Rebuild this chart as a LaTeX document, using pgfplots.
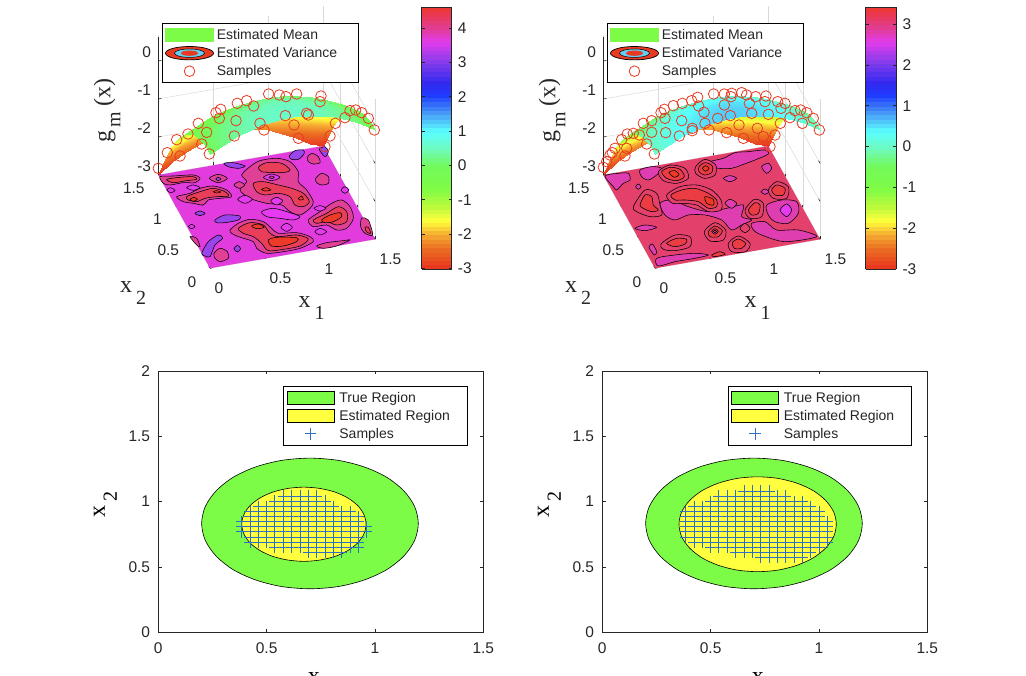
\documentclass[border=0pt]{standalone}
\usepackage{fontspec}
\setmainfont{Liberation Sans}
\newfontfamily\timesf{Liberation Serif}
\usepackage{pgfplots}
\pgfplotsset{compat=1.18}
\usepackage{pgfplotstable}

\definecolor{txt}{HTML}{262626}
\definecolor{tg}{RGB}{124,252,70}
\definecolor{ty}{RGB}{255,255,63}
\definecolor{sr}{RGB}{232,58,32}
\definecolor{sb}{RGB}{48,112,192}
% left floor
\definecolor{lbase}{RGB}{226,60,222}
\definecolor{lmag}{RGB}{230,58,240}
\definecolor{lpink}{RGB}{224,64,150}
\definecolor{lred}{RGB}{232,62,90}
\definecolor{ldark}{RGB}{238,58,40}
\definecolor{lpur}{RGB}{154,68,236}
% right floor
\definecolor{rbase}{RGB}{228,64,108}
\definecolor{rmag}{RGB}{222,62,176}
\definecolor{rred}{RGB}{234,60,66}
\definecolor{rdark}{RGB}{238,58,36}

\pgfplotsset{
  colormap={gm}{rgb255(0pt)=(232,50,30); rgb255(6pt)=(235,110,35); rgb255(10pt)=(245,170,50);
    rgb255(14pt)=(255,255,60); rgb255(18pt)=(190,250,60); rgb255(23.5pt)=(125,252,70);
    rgb255(30pt)=(115,250,90); rgb255(35pt)=(110,250,190); rgb255(40pt)=(90,255,255);
    rgb255(45pt)=(75,160,245); rgb255(50.5pt)=(30,60,255); rgb255(54pt)=(50,40,240);
    rgb255(60pt)=(130,60,235); rgb255(66pt)=(225,60,235); rgb255(70pt)=(225,60,150);
    rgb255(76pt)=(238,55,45)},
  colormap name=gm,
  /pgf/number format/assume math mode=true,
  tick label style={font=\fontsize{15.5}{15.5}\selectfont,text=txt,inner sep=0pt},
  threed/.style={
    anchor=south west, clip=false,
    x={(110pt,19.33pt)}, y={(-34.47pt,62.2pt)}, z={(0pt,38pt)},
    xmin=0,xmax=1.5,ymin=0,ymax=1.5,zmin=-3,zmax=0.68,
    xtick={0,0.5,1,1.5}, ytick={0,0.5,1,1.5}, ztick={-3,-2,-1,0},
    xtick pos=left, ytick pos=left, ztick pos=left,
    grid=major, grid style={gray!30,line width=0.5pt},
    x axis line style={draw=none}, y axis line style={draw=none}, z axis line style={draw=none},
    tick style={txt,line width=0.6pt}, major tick length=3pt,
    xticklabel style={anchor=west,xshift=4.5pt,yshift=-20pt},
    yticklabel style={anchor=east,xshift=-13.5pt,yshift=-13.4pt},
    zticklabel style={anchor=east,xshift=-7pt,yshift=8.5pt},
  },
  flat/.style={
    anchor=south west, scale only axis, width=325pt, height=261.3pt,
    xmin=0,xmax=1.5,ymin=0,ymax=2, xtick={0,0.5,1,1.5}, ytick={0,0.5,1,1.5,2},
    tick align=inside, xtick pos=both, ytick pos=both,
    tick style={txt,line width=0.7pt}, major tick length=3.3pt,
    axis line style={txt,line width=0.8pt},
    xticklabel style={yshift=-10pt}, yticklabel style={xshift=-8pt},
    xlabel style={at={(axis description cs:0.5,0)},anchor=base,yshift=-51.6pt},
    ylabel style={at={(axis description cs:0,0.5)},anchor=center,yshift=53pt,xshift=-3pt},
  },
  cbar/.style={samples=62,at={(parent axis.north west)},anchor=north west,
    scale only axis,height=261.7pt,
    yticklabel pos=right,tick align=inside,tick style={txt,line width=0.7pt},major tick length=3pt,
    yticklabel style={xshift=6pt},
    axis line style={txt,line width=0.9pt}},
  table/floormap/.style={x expr=0.008284*(\thisrowno{0}/3-60)+0.00459*(#1-\thisrowno{1}/3),
    y expr=0.01465*(#1-\thisrowno{1}/3)-0.002575*(\thisrowno{0}/3-60), z expr=-3,
    row sep=crcr, header=false},
  blobline/.style={draw=black,line width=0.55pt,smooth cycle,no markers,forget plot},
  ring/.style={only marks,mark=o,mark size=5.3pt,mark options={draw=sr,line width=0.8pt,fill=none},forget plot},
  leg/.style={
    anchor=south west, scale only axis, hide axis, xmin=0,xmax=1,ymin=0,ymax=1,
    legend style={at={(0,1)},anchor=north west,draw=black,line width=0.8pt,
      font=\fontsize{14}{14}\selectfont,text=txt,fill=white,
      inner xsep=3pt,inner ysep=4pt,
      nodes={inner sep=0pt,text depth=3pt,text height=12pt},
      /tikz/row sep=3pt,/tikz/column sep=3pt},
    legend cell align=left,
  },
}

% traced outlines, pixel read-offs in a crop of the floor
\newcommand{\blob}[2]{\addplot3[blobline,fill=#1] table[floormap=128.3]{#2};}
\newcommand{\lab}[2]{{\timesf\fontsize{24}{24}\selectfont #1\kern 4pt\raisebox{-12pt}{\fontsize{20}{20}\selectfont #2}}}
\newcommand{\gmx}{{\timesf\fontsize{24}{24}\selectfont g\kern 3.3pt\raisebox{-10pt}{\fontsize{20}{20}\selectfont m}\kern 5pt(x)}}

% mean surface, x2 up to the ridge and beyond it
\pgfplotstableread{
x y z
0 0 0
0.125 0 0.188
0.25 0 0.341
0.375 0 0.457
0.5 0 0.538
0.625 0 0.582
0.75 0 0.59
0.875 0 0.562
1 0 0.498
1.125 0 0.397
1.25 0 0.261
1.375 0 0.088
1.5 0 -0.12
0 0.155 -0.018
0.125 0.155 0.17
0.25 0.155 0.323
0.375 0.155 0.439
0.5 0.155 0.52
0.625 0.155 0.564
0.75 0.155 0.572
0.875 0.155 0.544
1 0.155 0.48
1.125 0.155 0.379
1.25 0.155 0.243
1.375 0.155 0.07
1.5 0.155 -0.138
0 0.31 -0.104
0.125 0.31 0.084
0.25 0.31 0.237
0.375 0.31 0.353
0.5 0.31 0.434
0.625 0.31 0.478
0.75 0.31 0.486
0.875 0.31 0.458
1 0.31 0.394
1.125 0.31 0.293
1.25 0.31 0.157
1.375 0.31 -0.016
1.5 0.31 -0.224
0 0.465 -0.256
0.125 0.465 -0.068
0.25 0.465 0.085
0.375 0.465 0.201
0.5 0.465 0.282
0.625 0.465 0.326
0.75 0.465 0.334
0.875 0.465 0.306
1 0.465 0.242
1.125 0.465 0.141
1.25 0.465 0.005
1.375 0.465 -0.168
1.5 0.465 -0.376
0 0.62 -0.476
0.125 0.62 -0.288
0.25 0.62 -0.135
0.375 0.62 -0.019
0.5 0.62 0.062
0.625 0.62 0.106
0.75 0.62 0.114
0.875 0.62 0.086
1 0.62 0.022
1.125 0.62 -0.079
1.25 0.62 -0.215
1.375 0.62 -0.388
1.5 0.62 -0.596
}\meanfront
\pgfplotstableread{
x y z
0 0.62 -0.476
0.125 0.62 -0.288
0.25 0.62 -0.135
0.375 0.62 -0.019
0.5 0.62 0.062
0.625 0.62 0.106
0.75 0.62 0.114
0.875 0.62 0.086
1 0.62 0.022
1.125 0.62 -0.079
1.25 0.62 -0.215
1.375 0.62 -0.388
1.5 0.62 -0.596
0 0.75 -0.713
0.125 0.75 -0.525
0.25 0.75 -0.372
0.375 0.75 -0.256
0.5 0.75 -0.175
0.625 0.75 -0.131
0.75 0.75 -0.123
0.875 0.75 -0.151
1 0.75 -0.215
1.125 0.75 -0.316
1.25 0.75 -0.452
1.375 0.75 -0.625
1.5 0.75 -0.833
0 0.875 -0.984
0.125 0.875 -0.796
0.25 0.875 -0.643
0.375 0.875 -0.527
0.5 0.875 -0.446
0.625 0.875 -0.402
0.75 0.875 -0.394
0.875 0.875 -0.422
1 0.875 -0.486
1.125 0.875 -0.587
1.25 0.875 -0.723
1.375 0.875 -0.896
1.5 0.875 -1.104
0 1 -1.3
0.125 1 -1.112
0.25 1 -0.959
0.375 1 -0.843
0.5 1 -0.762
0.625 1 -0.718
0.75 1 -0.71
0.875 1 -0.738
1 1 -0.802
1.125 1 -0.903
1.25 1 -1.039
1.375 1 -1.212
1.5 1 -1.42
0 1.125 -1.659
0.125 1.125 -1.451
0.25 1.125 -1.283
0.375 1.125 -1.162
0.5 1.125 -1.076
0.625 1.125 -1.029
0.75 1.125 -1.019
0.875 1.125 -1.047
1 1.125 -1.116
1.125 1.125 -1.232
1.25 1.125 -1.38
1.375 1.125 -1.563
1.5 1.125 -1.749
0 1.25 -2.063
0.125 1.25 -1.839
0.25 1.25 -1.659
0.375 1.25 -1.534
0.5 1.25 -1.444
0.625 1.25 -1.395
0.75 1.25 -1.383
0.875 1.25 -1.411
1 1.25 -1.484
1.125 1.25 -1.612
1.25 1.25 -1.77
1.375 1.25 -1.961
1.5 1.25 -2.129
0 1.375 -2.509
0.125 1.375 -2.265
0.25 1.375 -2.07
0.375 1.375 -1.94
0.5 1.375 -1.845
0.625 1.375 -1.794
0.75 1.375 -1.779
0.875 1.375 -1.807
1 1.375 -1.885
1.125 1.375 -2.028
1.25 1.375 -2.199
1.375 1.375 -2.4
1.5 1.375 -2.545
0 1.5 -3
0.125 1.5 -2.732
0.25 1.5 -2.519
0.375 1.5 -2.383
0.5 1.5 -2.282
0.625 1.5 -2.228
0.75 1.5 -2.21
0.875 1.5 -2.238
1 1.5 -2.322
1.125 1.5 -2.483
1.25 1.5 -2.669
1.375 1.5 -2.882
1.5 1.5 -3
}\meanback

\begin{document}
\begin{tikzpicture}[x=1pt,y=1pt]
\path[use as bounding box,clip] (0,0) rectangle (1026,676);

%% top left
\begin{axis}[threed,at={(158.3pt,407.7pt)},point meta min=-3.02,point meta max=4.61]
\addplot3[draw=none,fill=lbase,forget plot] coordinates {(0,0,-3)(1.5,0,-3)(1.5,1.5,-3)(0,1.5,-3)} -- cycle;
\blob{lpink}{275 105\\300 80\\330 62\\380 55\\420 65\\445 95\\445 125\\470 150\\490 185\\480 205\\450 225\\420 215\\395 195\\350 190\\300 175\\270 150\\290 125\\}
\blob{lred}{325 82\\350 68\\395 70\\420 90\\400 98\\360 97\\335 95\\}
\blob{lred}{310 130\\340 125\\385 135\\425 145\\460 160\\478 185\\460 200\\435 195\\420 170\\385 160\\345 165\\320 155\\}
\blob{ldark}{335 148\\350 143\\362 150\\345 153\\}
\blob{ldark}{445 175\\455 168\\460 178\\450 180\\}
\blob{lmag}{340 112\\365 102\\390 112\\365 122\\}
\blob{lpink}{357 112\\365 108\\373 112\\365 116\\}
\blob{lmag}{263 178\\285 166\\307 178\\285 190\\}
\blob{lmag}{362 183\\380 172\\398 183\\380 195\\}
\blob{lpink}{30 110\\70 108\\130 105\\150 115\\135 128\\100 128\\60 135\\40 130\\}
\blob{lred}{50 118\\90 112\\130 110\\140 118\\110 122\\70 128\\}
\blob{lpink}{178 115\\205 103\\232 115\\205 128\\}
\blob{lpur}{197 117\\205 112\\213 117\\205 122\\}
\blob{lpink}{252 135\\268 125\\284 135\\268 145\\}
\blob{lmag}{110 143\\130 135\\150 143\\130 151\\}
\blob{lmag}{50 150\\62 143\\75 152\\62 158\\}
\blob{lpink}{80 170\\120 160\\150 145\\190 138\\230 150\\245 170\\210 175\\175 180\\160 195\\130 190\\100 185\\}
\blob{lred}{110 170\\150 155\\190 145\\225 155\\235 168\\200 170\\165 175\\140 185\\115 180\\}
\blob{ldark}{190 155\\200 152\\212 156\\200 159\\}
\blob{ldark}{120 178\\132 172\\142 178\\130 184\\}
\blob{lpink}{240 270\\265 250\\300 238\\340 245\\365 265\\385 280\\440 278\\480 290\\490 305\\450 325\\400 335\\350 340\\320 325\\310 305\\265 290\\245 280\\}
\blob{lred}{265 265\\300 248\\340 255\\360 280\\385 290\\440 285\\475 297\\450 318\\400 328\\355 332\\335 310\\310 290\\280 280\\}
\blob{ldark}{355 300\\380 292\\440 293\\440 305\\400 318\\365 318\\}
\blob{ldark}{305 258\\325 252\\342 262\\320 266\\}
\blob{lpink}{475 240\\510 215\\545 190\\575 180\\600 200\\610 235\\590 265\\560 270\\530 255\\490 260\\}
\blob{lred}{490 240\\530 220\\565 200\\590 215\\590 245\\560 255\\530 245\\500 250\\}
\blob{ldark}{515 240\\540 225\\570 218\\575 230\\550 245\\525 248\\}
\blob{lpink}{497 115\\515 100\\535 110\\535 130\\515 135\\500 128\\}
\blob{lpink}{472 52\\485 40\\505 50\\510 68\\490 72\\475 65\\}
\blob{lpur}{418 48\\435 32\\460 30\\462 42\\445 58\\425 58\\}
\blob{lpur}{508 28\\525 20\\535 35\\525 50\\}
\blob{lpur}{222 70\\250 68\\285 78\\265 85\\235 80\\}
\blob{lpur}{195 240\\225 225\\270 228\\265 240\\225 248\\200 248\\}
\blob{lpur}{135 220\\150 213\\165 220\\150 227\\}
\blob{lpur}{155 340\\175 305\\205 285\\218 295\\195 315\\180 350\\165 348\\}
\blob{lpur}{252 326\\262 316\\272 326\\262 336\\}
\blob{lmag}{115 260\\125 253\\135 260\\125 266\\}
\blob{lmag}{335 215\\370 205\\420 218\\450 230\\430 240\\390 235\\350 230\\}
\blob{lmag}{393 262\\410 250\\427 262\\410 274\\}
\blob{lmag}{495 275\\510 265\\530 275\\510 285\\}
\blob{lmag}{492 205\\510 197\\528 205\\510 213\\}
\blob{lmag}{573 150\\585 140\\597 150\\585 160\\}
\blob{lpink}{120 290\\140 295\\150 320\\140 315\\}
\blob{lpink}{635 235\\655 240\\668 285\\645 280\\632 260\\}
\blob{lred}{645 262\\655 262\\662 280\\650 276\\}
\blob{lpink}{192 340\\210 325\\232 335\\235 355\\210 365\\195 355\\}
\blob{lpink}{500 318\\530 308\\580 302\\600 300\\560 318\\520 325\\}
\addplot3[ring] table[floormap=188.3]{90 228\\155 192\\525 200\\540 168\\445 175\\342 150\\};
\addplot3[surf,shader=interp,mesh/cols=13,forget plot] table {\meanback};
\addplot3[ring] table[floormap=188.3]{356 42\\388 45\\408 50\\440 42\\513 48\\510 65\\262 70\\290 62\\311 78\\198 98\\212 88\\145 130\\600 92\\617 90\\635 98\\655 115\\432 135\\475 105\\};
\addplot3[surf,shader=interp,mesh/cols=13,forget plot] table {\meanfront};
\addplot3[ring] table[floormap=188.3]{25 265\\52 218\\80 179\\114 162\\170 157\\178 222\\208 115\\258 122\\253 168\\330 130\\406 107\\470 100\\556 130\\585 113\\673 150\\};
\addplot3[txt,line width=0.8pt,forget plot] coordinates {(0,1.5,-3)(0,1.5,0.62)};
\end{axis}
\node[rotate=90,anchor=center,text=txt] at (107,565.5) {\gmx};
\node[anchor=base west,text=txt] at (116.5,383) {\lab{x}{2}};
\node[anchor=base west,text=txt] at (295,368) {\lab{x}{1}};

%% top right
\begin{axis}[threed,at={(603.3pt,407.7pt)},point meta min=-3.02,point meta max=3.41]
\addplot3[draw=none,fill=rbase,forget plot] coordinates {(0,0,-3)(1.5,0,-3)(1.5,1.5,-3)(0,1.5,-3)} -- cycle;
\blob{rmag}{30 108\\70 100\\100 100\\105 120\\85 130\\65 150\\55 140\\}
\blob{rmag}{135 90\\170 80\\200 85\\185 105\\160 120\\140 110\\}
\blob{rmag}{345 65\\385 55\\420 38\\460 35\\510 30\\520 42\\480 60\\440 75\\410 85\\370 85\\350 78\\}
\blob{rmag}{385 115\\405 107\\425 115\\405 125\\}
\blob{rmag}{500 80\\520 70\\530 85\\515 100\\}
\blob{rmag}{195 190\\230 180\\280 200\\340 215\\395 205\\445 195\\440 230\\470 240\\440 255\\410 270\\380 240\\330 225\\280 225\\240 240\\210 225\\}
\blob{rmag}{390 190\\405 178\\425 190\\410 205\\}
\blob{rmag}{515 195\\560 180\\605 185\\610 220\\580 250\\540 245\\520 225\\}
\blob{lmag}{555 210\\575 192\\590 210\\575 230\\}
\blob{rmag}{470 250\\510 245\\545 270\\610 270\\665 290\\570 305\\500 285\\475 270\\}
\blob{rbase}{435 265\\450 250\\465 265\\450 278\\}
\blob{rmag}{185 355\\240 345\\300 340\\340 345\\300 355\\240 365\\190 378\\}
\blob{rmag}{120 265\\150 255\\185 262\\150 272\\}
\blob{rmag}{122 140\\130 132\\138 140\\130 148\\}
\blob{rmag}{498 155\\510 147\\522 155\\510 163\\}
\blob{rmag}{162 322\\172 312\\185 335\\178 345\\}
\blob{rbase}{190 95\\225 75\\270 85\\280 115\\245 130\\205 122\\}
\blob{rred}{200 95\\225 82\\255 88\\268 110\\245 122\\215 115\\}
\blob{rdark}{222 97\\240 92\\252 104\\238 112\\}
\blob{rbase}{302 80\\330 58\\362 75\\360 105\\328 115\\302 100\\}
\blob{rred}{312 80\\330 68\\352 78\\350 98\\328 105\\312 95\\}
\blob{rdark}{322 85\\332 77\\342 85\\332 94\\}
\blob{rbase}{215 165\\255 140\\305 135\\350 150\\378 180\\378 210\\340 215\\305 195\\265 190\\232 190\\}
\blob{rred}{228 165\\260 150\\300 145\\340 160\\365 180\\365 200\\340 205\\310 185\\270 180\\240 180\\}
\blob{rdark}{330 170\\355 178\\355 195\\335 190\\}
\blob{rbase}{115 200\\150 150\\185 160\\195 195\\200 225\\165 230\\125 215\\}
\blob{rred}{135 195\\150 165\\170 170\\175 195\\190 210\\170 215\\145 205\\}
\blob{rbase}{328 275\\360 248\\392 270\\385 300\\345 303\\}
\blob{rred}{340 275\\360 258\\382 272\\370 290\\345 290\\}
\blob{rmag}{350 274\\360 266\\370 274\\360 283\\}
\blob{rdark}{355 274\\360 270\\365 274\\360 279\\}
\blob{rbase}{198 312\\240 285\\285 290\\285 320\\240 332\\205 328\\}
\blob{rred}{215 310\\245 295\\275 298\\270 312\\240 320\\}
\blob{rbase}{400 310\\430 288\\465 310\\452 335\\410 335\\}
\blob{rred}{412 308\\430 297\\452 310\\440 325\\418 325\\}
\blob{rbase}{520 150\\545 125\\580 140\\575 175\\535 175\\}
\blob{rred}{530 150\\545 135\\570 145\\565 165\\540 165\\}
\blob{rbase}{450 210\\478 178\\505 190\\500 230\\465 235\\}
\blob{rred}{460 210\\480 188\\495 195\\490 220\\470 225\\}
\blob{rred}{350 345\\375 335\\390 343\\360 350\\}
\addplot3[ring] table[floormap=188.3]{90 228\\155 192\\95 205\\60 205\\45 225\\342 150\\395 158\\445 175\\505 170\\540 165\\525 200\\};
\addplot3[surf,shader=interp,mesh/cols=13,forget plot] table {\meanback};
\addplot3[ring] table[floormap=188.3]{145 130\\170 122\\198 98\\208 88\\235 77\\262 70\\290 62\\308 52\\311 78\\356 42\\388 42\\410 40\\440 38\\455 45\\482 50\\513 48\\548 65\\570 70\\600 92\\617 90\\635 98\\655 115\\210 115\\260 122\\327 97\\388 75\\408 50\\463 70\\510 65\\558 85\\432 135\\487 145\\133 165\\};
\addplot3[surf,shader=interp,mesh/cols=13,forget plot] table {\meanfront};
\addplot3[ring] table[floormap=188.3]{25 262\\35 245\\52 218\\80 179\\97 162\\115 160\\170 157\\178 222\\212 158\\253 168\\292 145\\292 152\\330 130\\368 115\\406 107\\470 100\\520 103\\556 130\\585 113\\622 130\\673 150\\};
\addplot3[txt,line width=0.8pt,forget plot] coordinates {(0,1.5,-3)(0,1.5,0.62)};
\end{axis}
\node[rotate=90,anchor=center,text=txt] at (552,565.5) {\gmx};
\node[anchor=base west,text=txt] at (561.5,383) {\lab{x}{2}};
\node[anchor=base west,text=txt] at (741,368) {\lab{x}{1}};

%% colour bars
\begin{axis}[at={(413.2pt,407pt)},anchor=south west,scale only axis,width=30pt,height=261.7pt,hide axis,
  xmin=0,xmax=1,ymin=0,ymax=1,point meta min=-3.02,point meta max=4.61,
  colorbar sampled,
  colorbar style={cbar,width=30pt,ytick={-3,-2,-1,0,1,2,3,4}}]
\addplot[draw=none,forget plot] coordinates {(0,0)(1,1)};
\end{axis}
\begin{axis}[at={(857.2pt,407pt)},anchor=south west,scale only axis,width=30.6pt,height=261.7pt,hide axis,
  xmin=0,xmax=1,ymin=0,ymax=1,point meta min=-3,point meta max=3.41,
  colorbar sampled,
  colorbar style={cbar,width=30.6pt,ytick={-3,-2,-1,0,1,2,3}}]
\addplot[draw=none,forget plot] coordinates {(0,0)(1,1)};
\end{axis}

%% bottom left
\begin{axis}[flat,at={(158.3pt,43.7pt)},xlabel={\lab{x}{1}},ylabel={\lab{x}{2}}]
\addplot[fill=tg,draw=black,line width=0.6pt,smooth cycle,no markers,forget plot] coordinates {(1.2,.833)(1.183,.963)(1.133,1.083)(1.054,1.187)(.95,1.266)(.83,1.316)(.7,1.333)(.57,1.316)(.45,1.266)(.346,1.187)(.267,1.083)(.217,.963)(.2,.833)(.217,.703)(.267,.583)(.346,.479)(.45,.4)(.57,.35)(.7,.333)(.83,.35)(.95,.4)(1.054,.479)(1.133,.583)(1.183,.703)};
\addplot[fill=ty,draw=black,line width=0.6pt,smooth cycle,no markers,forget plot] coordinates {(.959,.827)(.949,.901)(.921,.969)(.875,1.028)(.816,1.073)(.746,1.101)(.672,1.111)(.598,1.101)(.528,1.073)(.469,1.028)(.423,.969)(.395,.901)(.385,.827)(.395,.753)(.423,.685)(.469,.626)(.528,.581)(.598,.553)(.672,.543)(.746,.553)(.816,.581)(.875,.626)(.921,.685)(.949,.753)};
\addplot[only marks,mark=+,mark size=5.7pt,mark options={draw=sb,line width=0.8pt},forget plot] coordinates {
(.577,1.043)(.615,1.043)(.654,1.043)(.692,1.043)(.731,1.043)
(.538,1.004)(.577,1.004)(.615,1.004)(.654,1.004)(.692,1.004)(.731,1.004)(.769,1.004)
(.462,.965)(.5,.965)(.538,.965)(.577,.965)(.615,.965)(.654,.965)(.692,.965)(.731,.965)(.769,.965)(.808,.965)
(.423,.926)(.462,.926)(.5,.926)(.538,.926)(.577,.926)(.615,.926)(.654,.926)(.692,.926)(.731,.926)(.769,.926)(.808,.926)(.846,.926)(.885,.926)
(.423,.886)(.462,.886)(.5,.886)(.538,.886)(.577,.886)(.615,.886)(.654,.886)(.692,.886)(.731,.886)(.769,.886)(.808,.886)(.846,.886)(.885,.886)(.923,.886)
(.385,.847)(.423,.847)(.462,.847)(.5,.847)(.538,.847)(.577,.847)(.615,.847)(.654,.847)(.692,.847)(.731,.847)(.769,.847)(.808,.847)(.846,.847)(.885,.847)(.923,.847)
(.385,.808)(.423,.808)(.462,.808)(.5,.808)(.538,.808)(.577,.808)(.615,.808)(.654,.808)(.692,.808)(.731,.808)(.769,.808)(.808,.808)(.846,.808)(.885,.808)(.923,.808)(.962,.808)
(.385,.769)(.423,.769)(.462,.769)(.5,.769)(.538,.769)(.577,.769)(.615,.769)(.654,.769)(.692,.769)(.731,.769)(.769,.769)(.808,.769)(.846,.769)(.885,.769)(.923,.769)(.962,.769)
(.423,.73)(.462,.73)(.5,.73)(.538,.73)(.577,.73)(.615,.73)(.654,.73)(.692,.73)(.731,.73)(.769,.73)(.808,.73)(.846,.73)(.885,.73)(.923,.73)
(.423,.69)(.462,.69)(.5,.69)(.538,.69)(.577,.69)(.615,.69)(.654,.69)(.692,.69)(.731,.69)(.769,.69)(.808,.69)(.846,.69)(.885,.69)(.923,.69)
(.538,.651)(.577,.651)(.615,.651)(.654,.651)(.692,.651)(.731,.651)(.769,.651)(.808,.651)(.846,.651)(.885,.651)(.923,.651)
(.692,.612)(.731,.612)(.769,.612)(.808,.612)(.846,.612)
};
\end{axis}

%% bottom right
\begin{axis}[flat,at={(602.3pt,43.7pt)},xlabel={\lab{x}{1}},ylabel={\lab{x}{2}}]
\addplot[fill=tg,draw=black,line width=0.6pt,smooth cycle,no markers,forget plot] coordinates {(1.2,.833)(1.183,.963)(1.133,1.083)(1.054,1.187)(.95,1.266)(.83,1.316)(.7,1.333)(.57,1.316)(.45,1.266)(.346,1.187)(.267,1.083)(.217,.963)(.2,.833)(.217,.703)(.267,.583)(.346,.479)(.45,.4)(.57,.35)(.7,.333)(.83,.35)(.95,.4)(1.054,.479)(1.133,.583)(1.183,.703)};
\addplot[fill=ty,draw=black,line width=0.6pt,smooth cycle,no markers,forget plot] coordinates {(1.08,.827)(1.068,.921)(1.031,1.009)(.974,1.084)(.899,1.141)(.811,1.178)(.717,1.19)(.623,1.178)(.535,1.141)(.46,1.084)(.403,1.009)(.366,.921)(.354,.827)(.366,.733)(.403,.645)(.46,.57)(.535,.513)(.623,.476)(.717,.464)(.811,.476)(.899,.513)(.974,.57)(1.031,.645)(1.068,.733)};
\addplot[only marks,mark=+,mark size=5.7pt,mark options={draw=sb,line width=0.8pt},forget plot] coordinates {
(.654,1.081)(.692,1.081)(.731,1.081)(.769,1.081)
(.538,1.042)(.577,1.042)(.615,1.042)(.654,1.042)(.692,1.042)(.731,1.042)(.769,1.042)(.808,1.042)(.846,1.042)
(.5,1.003)(.538,1.003)(.577,1.003)(.615,1.003)(.654,1.003)(.692,1.003)(.731,1.003)(.769,1.003)(.808,1.003)(.846,1.003)(.885,1.003)(.923,1.003)
(.423,.964)(.462,.964)(.5,.964)(.538,.964)(.577,.964)(.615,.964)(.654,.964)(.692,.964)(.731,.964)(.769,.964)(.808,.964)(.846,.964)(.885,.964)(.923,.964)(.962,.964)
(.385,.925)(.423,.925)(.462,.925)(.5,.925)(.538,.925)(.577,.925)(.615,.925)(.654,.925)(.692,.925)(.731,.925)(.769,.925)(.808,.925)(.846,.925)(.885,.925)(.923,.925)(.962,.925)(1,.925)
(.385,.886)(.423,.886)(.462,.886)(.5,.886)(.538,.886)(.577,.886)(.615,.886)(.654,.886)(.692,.886)(.731,.886)(.769,.886)(.808,.886)(.846,.886)(.885,.886)(.923,.886)(.962,.886)(1,.886)
(.385,.847)(.423,.847)(.462,.847)(.5,.847)(.538,.847)(.577,.847)(.615,.847)(.654,.847)(.692,.847)(.731,.847)(.769,.847)(.808,.847)(.846,.847)(.885,.847)(.923,.847)(.962,.847)(1,.847)(1.038,.847)
(.385,.808)(.423,.808)(.462,.808)(.5,.808)(.538,.808)(.577,.808)(.615,.808)(.654,.808)(.692,.808)(.731,.808)(.769,.808)(.808,.808)(.846,.808)(.885,.808)(.923,.808)(.962,.808)(1,.808)(1.038,.808)
(.385,.769)(.423,.769)(.462,.769)(.5,.769)(.538,.769)(.577,.769)(.615,.769)(.654,.769)(.692,.769)(.731,.769)(.769,.769)(.808,.769)(.846,.769)(.885,.769)(.923,.769)(.962,.769)(1,.769)(1.038,.769)
(.385,.73)(.423,.73)(.462,.73)(.5,.73)(.538,.73)(.577,.73)(.615,.73)(.654,.73)(.692,.73)(.731,.73)(.769,.73)(.808,.73)(.846,.73)(.885,.73)(.923,.73)(.962,.73)(1,.73)(1.038,.73)
(.423,.691)(.462,.691)(.5,.691)(.538,.691)(.577,.691)(.615,.691)(.654,.691)(.692,.691)(.731,.691)(.769,.691)(.808,.691)(.846,.691)(.885,.691)(.923,.691)(.962,.691)(1,.691)(1.038,.691)
(.5,.652)(.538,.652)(.577,.652)(.615,.652)(.654,.652)(.692,.652)(.731,.652)(.769,.652)(.808,.652)(.846,.652)(.885,.652)(.923,.652)(.962,.652)(1,.652)
(.615,.613)(.654,.613)(.692,.613)(.731,.613)(.769,.613)(.808,.613)(.846,.613)(.885,.613)(.923,.613)(.962,.613)
(.731,.574)(.769,.574)(.808,.574)(.846,.574)(.885,.574)(.923,.574)
};
\end{axis}

%% legends
\newcommand{\legA}{%
\addplot[draw=none,forget plot] coordinates {(0,0)(1,1)};
\addlegendimage{legend image code/.code={\fill[tg] (0pt,-6.7pt) rectangle (48pt,6.7pt);}}
\addlegendentry{Estimated Mean}
\addlegendimage{legend image code/.code={
  \draw[fill=sr,line width=0.7pt] (24pt,0pt) ellipse (24pt and 6.7pt);
  \draw[fill=cyan!60!white,line width=0.5pt] (24pt,0pt) ellipse (15pt and 4.2pt);
  \fill[sr] (24pt,0pt) ellipse (8pt and 2.2pt);}}
\addlegendentry{Estimated Variance\hspace{18pt}\mbox{}}
\addlegendimage{legend image code/.code={\draw[sr,line width=0.8pt] (24pt,0pt) circle (5.3pt);}}
\addlegendentry{Samples}}
\newcommand{\legB}{%
\addplot[draw=none,forget plot] coordinates {(0,0)(1,1)};
\addlegendimage{legend image code/.code={\draw[fill=tg,line width=0.7pt] (0pt,-6.7pt) rectangle (47pt,6.7pt);}}
\addlegendentry{True Region}
\addlegendimage{legend image code/.code={\draw[fill=ty,line width=0.7pt] (0pt,-6.7pt) rectangle (47pt,6.7pt);}}
\addlegendentry{Estimated Region\hspace{14pt}\mbox{}}
\addlegendimage{legend image code/.code={\draw[sb,line width=0.8pt] (23.5pt,-5.7pt) -- (23.5pt,5.7pt) (17.8pt,0pt) -- (29.2pt,0pt);}}
\addlegendentry{Samples}}
\begin{axis}[leg,at={(161.7pt,593.7pt)},width=197.6pt,height=59pt] \legA \end{axis}
\begin{axis}[leg,at={(606.7pt,593.7pt)},width=197.6pt,height=59pt] \legA \end{axis}
\begin{axis}[leg,at={(283.3pt,232pt)},width=184pt,height=58pt,legend style={/tikz/column sep=5pt}] \legB \end{axis}
\begin{axis}[leg,at={(727.7pt,232pt)},width=184pt,height=58pt,legend style={/tikz/column sep=5pt}] \legB \end{axis}
\end{tikzpicture}
\end{document}
